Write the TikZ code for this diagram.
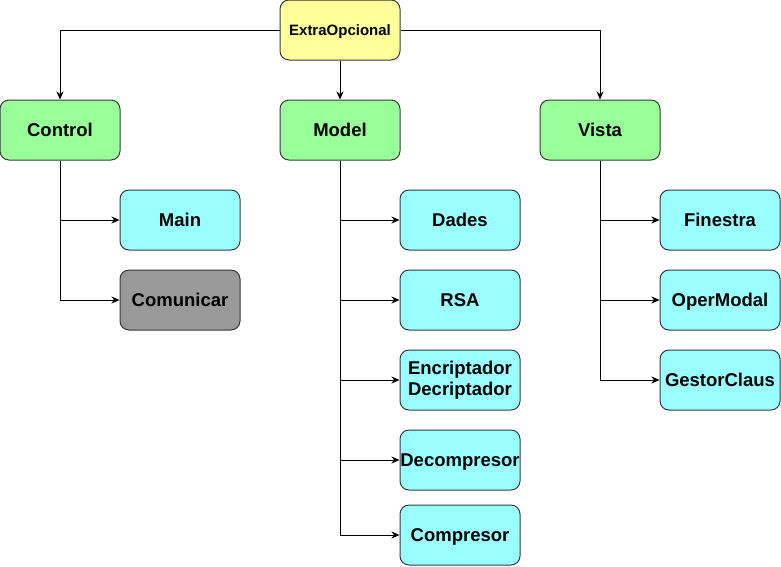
\documentclass[tikz,border=0pt]{standalone}
\usepackage{fontspec}
\setmainfont{Liberation Sans}
\usetikzlibrary{arrows.meta}
\definecolor{cyel}{HTML}{FFFF99}
\definecolor{cgrn}{HTML}{99FF99}
\definecolor{ccyn}{HTML}{99FFFF}
\definecolor{cgry}{HTML}{999999}
\definecolor{cbrd}{HTML}{36393D}
\begin{document}
\begin{tikzpicture}[x=1pt,y=-1pt,
  basebox/.style={draw=cbrd,line width=1pt,rounded corners=9pt,minimum width=120pt,minimum height=60pt,
    inner sep=0pt,align=center,font=\fontsize{18.5}{21.5}\selectfont\bfseries},
  box/.style={basebox,text height=13.4pt,text depth=0pt},
  topbox/.style={box,fill=cyel,text height=10.8pt,text depth=0pt,font=\fontsize{15}{17}\selectfont\bfseries},
  grp/.style={box,fill=cgrn},
  leaf/.style={box,fill=ccyn},
  leaftwo/.style={basebox,fill=ccyn},
  grey/.style={box,fill=cgry},
  conn/.style={line width=1pt,-{Stealth[length=8pt,width=7pt,inset=2.5pt]}}]
\useasboundingbox (0,0) rectangle (781,566);
\node[topbox] (extra) at (340,30) {ExtraOpcional};
\node[grp] (control) at (60,130) {Control};
\node[grp] (model) at (340,130) {Model};
\node[grp] (vista) at (600,130) {Vista};
\node[leaf] (main) at (180,220) {Main};
\node[grey] (comu) at (180,300) {Comunicar};
\node[leaf] (dades) at (460,220) {Dades};
\node[leaf] (rsa) at (460,300) {RSA};
\node[leaftwo] (enc) at (460,380) {Encriptador\\Decriptador};
\node[leaf] (dec) at (460,460) {Decompresor};
\node[leaf] (comp) at (460,535) {Compresor};
\node[leaf] (fin) at (720,220) {Finestra};
\node[leaf] (oper) at (720,300) {OperModal};
\node[leaf] (gest) at (720,380) {GestorClaus};
\draw[conn] (extra.west) -| (control.north);
\draw[conn] (extra.east) -| (vista.north);
\draw[conn] (extra.south) -- (model.north);
\draw[conn] (control.south) |- (main.west);
\draw[conn] (control.south) |- (comu.west);
\draw[conn] (model.south) |- (dades.west);
\draw[conn] (model.south) |- (rsa.west);
\draw[conn] (model.south) |- (enc.west);
\draw[conn] (model.south) |- (dec.west);
\draw[conn] (model.south) |- (comp.west);
\draw[conn] (vista.south) |- (fin.west);
\draw[conn] (vista.south) |- (oper.west);
\draw[conn] (vista.south) |- (gest.west);
\end{tikzpicture}
\end{document}
